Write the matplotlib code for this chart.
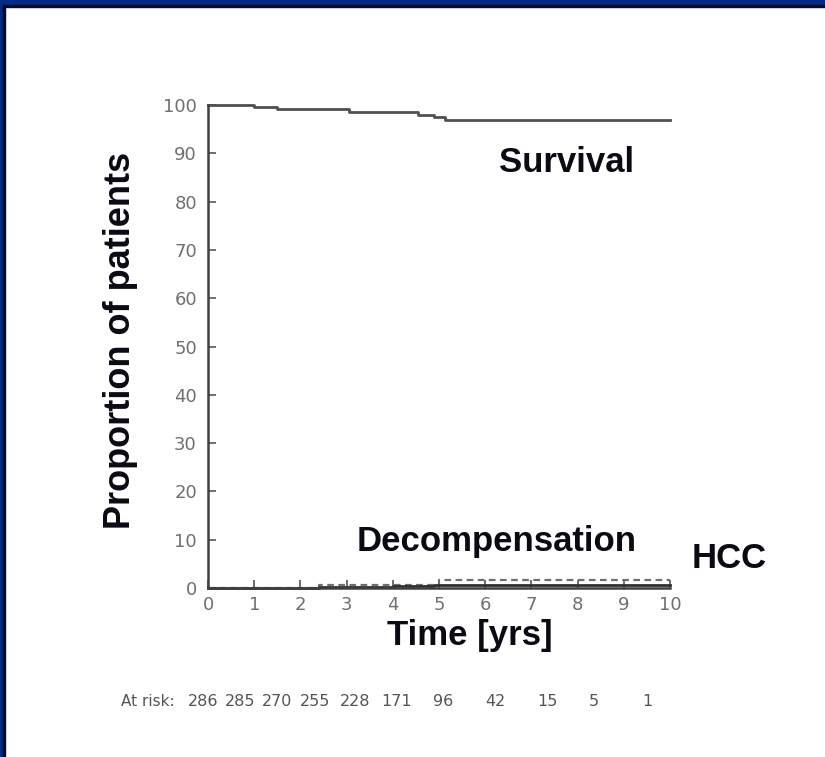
import numpy as np
import matplotlib
matplotlib.use("Agg")
import matplotlib.pyplot as plt
from matplotlib.patches import Rectangle

# Kaplan-Meier style curves (time in years, percent)
surv_t = [0, 1.0, 1.5, 3.05, 4.55, 4.9, 5.13, 10]
surv_y = [100, 99.5, 99.1, 98.6, 98.0, 97.6, 96.9, 96.9]

decomp_t = [0, 2.4, 4.0, 4.9, 10]
decomp_y = [0, 0.2, 0.4, 0.7, 0.7]

hcc_t = [0, 2.4, 5.0, 10]
hcc_y = [0, 0.6, 1.7, 1.7]

at_risk = [286, 285, 270, 255, 228, 171, 96, 42, 15, 5, 1]
risk_pos = [-0.11, 0.69, 1.49, 2.32, 3.18, 4.09, 5.09, 6.23, 7.34, 8.35, 9.5]

xticks = list(range(0, 11))
yticks = list(range(0, 101, 10))

W, H = 825, 757
fig = plt.figure(figsize=(W / 100, H / 100), dpi=100)
fig.patch.set_facecolor("white")

# blue frame on top and left edge
blue = "#002b88"
fig.patches.append(Rectangle((0, 1 - 5 / H), 1, 5 / H, transform=fig.transFigure, color=blue, zorder=0))
fig.patches.append(Rectangle((0, 1 - 7 / H), 1, 2 / H, transform=fig.transFigure, color="#050a30", zorder=0))
fig.patches.append(Rectangle((0, 0), 3 / W, 1, transform=fig.transFigure, color=blue, zorder=0))
fig.patches.append(Rectangle((3 / W, 0), 2 / W, 1 - 5 / H, transform=fig.transFigure, color="#050a30", zorder=0))

ax = fig.add_axes([208 / W, 1 - 588 / H, 462 / W, 483 / H])
ax.step(surv_t, surv_y, where="post", color="#505050", lw=2, clip_on=False)
ax.step(hcc_t, hcc_y, where="post", color="#707070", lw=1.6, ls=(0, (3, 2)), clip_on=False)
ax.step(decomp_t, decomp_y, where="post", color="#303030", lw=2, clip_on=False)

ax.set_xlim(0, 10)
ax.set_ylim(0, 100)
ax.set_xticks(xticks)
ax.set_yticks(yticks)
ax.tick_params(direction="in", length=6, width=1.2, color="#555555",
               labelcolor="#707070", labelsize=13)
ax.tick_params(axis="y", pad=8)
ax.tick_params(axis="x", pad=6)
for s in ["top", "right"]:
    ax.spines[s].set_visible(False)
for s in ["left", "bottom"]:
    ax.spines[s].set_color("#404040")
    ax.spines[s].set_linewidth(1.8)

bold = dict(family="Liberation Sans", weight="bold", color="#0a0a14")
fig.text(567 / W, 1 - 163 / H, "Survival", ha="center", va="center", fontsize=25, **bold)
fig.text(497 / W, 1 - 541 / H, "Decompensation", ha="center", va="center", fontsize=25, **bold)
fig.text(729 / W, 1 - 558 / H, "HCC", ha="center", va="center", fontsize=25, **bold)
fig.text(470 / W, 1 - 636 / H, "Time [yrs]", ha="center", va="center", fontsize=25, **bold)
fig.text(120 / W, 1 - 340 / H, "Proportion of patients", ha="center", va="center",
         rotation=90, fontsize=26, **bold)

# at-risk row under the axis
ax.text(-1.30, -23.5, "At risk:", ha="center", va="center", fontsize=11,
        color="#555555", clip_on=False)
for p, n in zip(risk_pos, at_risk):
    ax.text(p, -23.5, str(n), ha="center", va="center", fontsize=11.5,
            color="#555555", clip_on=False)

fig.savefig("out.png", dpi=100)
